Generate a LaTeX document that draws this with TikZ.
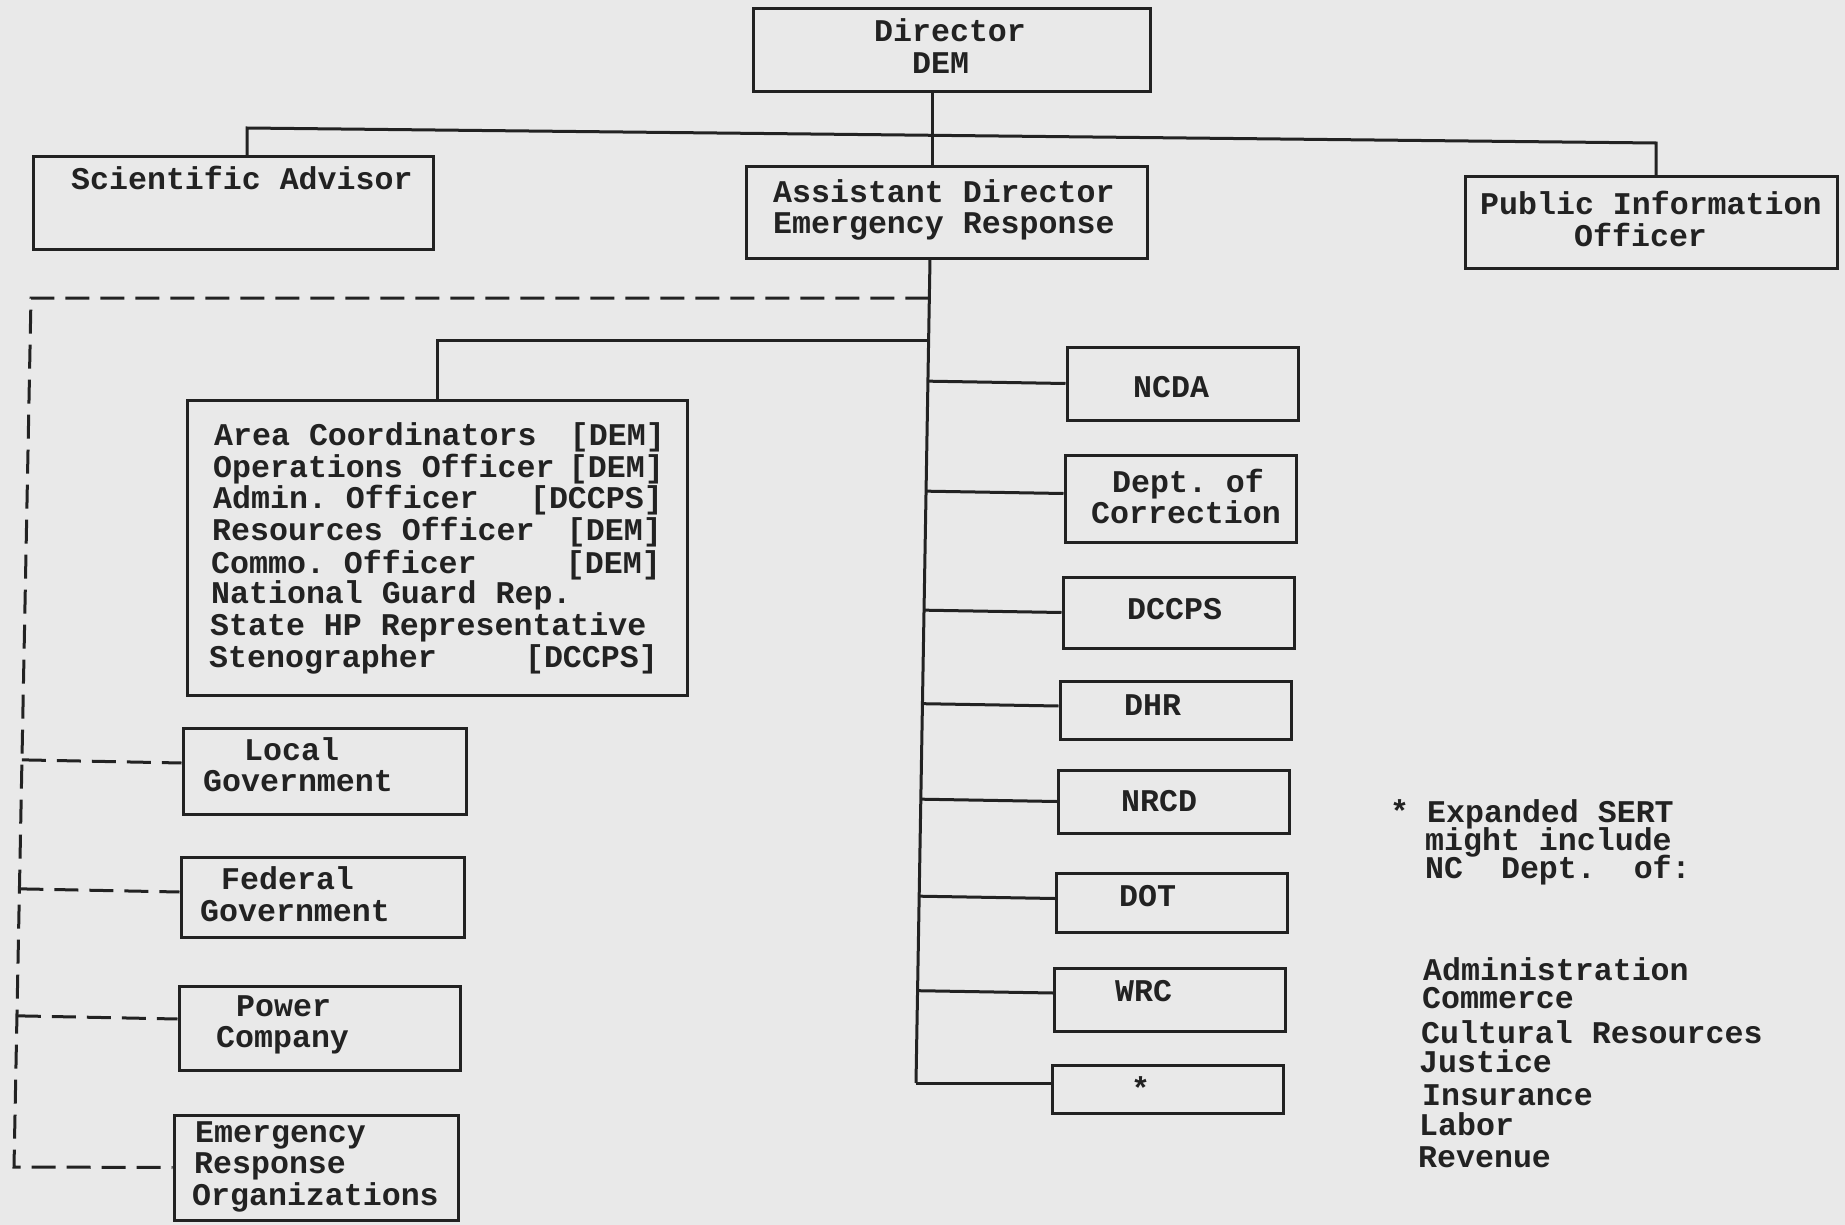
\documentclass[tikz,border=0pt]{standalone}
\usepackage{fontspec}
\setmonofont{Liberation Mono}
\usetikzlibrary{calc}
\definecolor{paper}{HTML}{E9E9E9}
\definecolor{ink}{HTML}{222222}
\newcommand\twfont{\fontsize{31.6}{31.6}\selectfont\ttfamily\bfseries}
\begin{document}
\begin{tikzpicture}[x=1pt,y=-1pt,
  box/.style={draw=ink, line width=3pt, rectangle, inner sep=0pt},
  tx/.style={anchor=base west, inner sep=0pt, font=\twfont, text=ink, text height=20pt, text depth=5pt},
  txr/.style={anchor=base east, inner sep=0pt, font=\twfont, text=ink, text height=20pt, text depth=5pt},
  link/.style={draw=ink, line width=3pt},
  dlink/.style={draw=ink, line width=3pt, dash pattern=on 24pt off 11pt}]
\useasboundingbox (0,0) rectangle (1845,1225);
\fill[paper] (0,0) rectangle (1845,1225);

% ---- boxes
\node[box, minimum width=397pt, minimum height=83pt] (dir) at (951.5,50.5) {};
\node[box, minimum width=400pt, minimum height=93pt] (sci) at (233,203.5) {};
\node[box, minimum width=401pt, minimum height=92pt] (ad) at (946.5,213) {};
\node[box, minimum width=372pt, minimum height=91pt] (pio) at (1651,222.5) {};
\node[box, minimum width=500pt, minimum height=295pt] (staff) at (437,547.5) {};
\node[box, minimum width=283pt, minimum height=86pt] (local) at (324.5,771) {};
\node[box, minimum width=283pt, minimum height=80pt] (fed) at (322.5,897) {};
\node[box, minimum width=281pt, minimum height=84pt] (power) at (319.5,1028) {};
\node[box, minimum width=284pt, minimum height=105pt] (ero) at (316,1167.5) {};
\node[box, minimum width=231pt, minimum height=73pt] (ncda) at (1182.5,383.5) {};
\node[box, minimum width=231pt, minimum height=87pt] (corr) at (1180.5,498.5) {};
\node[box, minimum width=231pt, minimum height=71pt] (dccps) at (1178.5,612.5) {};
\node[box, minimum width=231pt, minimum height=58pt] (dhr) at (1175.5,710) {};
\node[box, minimum width=231pt, minimum height=63pt] (nrcd) at (1174,801.5) {};
\node[box, minimum width=231pt, minimum height=59pt] (dot) at (1172,902.5) {};
\node[box, minimum width=231pt, minimum height=63pt] (wrc) at (1170,1000) {};
\node[box, minimum width=231pt, minimum height=48pt] (star) at (1168,1089) {};

% ---- solid connectors
\coordinate (bl) at (247,128);
\coordinate (br) at (1656,143);
\coordinate (jx) at (932,135);
\draw[link] (sci.north -| bl) -- (bl) -- (br) -- (pio.north -| br);
\draw[link] (dir.south -| jx) -- (ad.north -| jx);
\coordinate (tt) at (930,259);
\coordinate (tb) at (916,1083);
\draw[link] (tt) -- (tb);
\coordinate (sj) at (929,340);
\draw[link] (sj) -| (staff.north);
\draw[link] ($(tt)!(ncda.west)!(tb)$) -- (ncda.west);
\draw[link] ($(tt)!([yshift=5pt]corr.west)!(tb)$) -- ([yshift=5pt]corr.west);
\draw[link] ($(tt)!(dccps.west)!(tb)$) -- (dccps.west);
\draw[link] ($(tt)!([yshift=4pt]dhr.west)!(tb)$) -- ([yshift=4pt]dhr.west);
\draw[link] ($(tt)!(nrcd.west)!(tb)$) -- (nrcd.west);
\draw[link] ($(tt)!([yshift=4pt]dot.west)!(tb)$) -- ([yshift=4pt]dot.west);
\draw[link] ($(tt)!([yshift=7pt]wrc.west)!(tb)$) -- ([yshift=7pt]wrc.west);
\draw[link] (tb) -- (tb -| star.west);

% ---- dashed connectors
\coordinate (dj) at (929.3,298);
\coordinate (dl1) at (31,298);
\coordinate (dl2) at (14,1167);
\draw[dlink] (dj) -- (dl1) -- (dl2) -- (ero.west);
\draw[dlink] ($(dl1)!([yshift=8pt]local.west)!(dl2)$) -- ([yshift=8pt]local.west);
\draw[dlink] ($(dl1)!([yshift=5pt]fed.west)!(dl2)$) -- ([yshift=5pt]fed.west);
\draw[dlink] ($(dl1)!([yshift=9pt]power.west)!(dl2)$) -- ([yshift=9pt]power.west);

% ---- texts
\node[tx] (tdir1) at (874,42) {Director};
\node[tx] (tdir2) at (912,74) {DEM};
\node[tx] (tsci) at (71,190) {Scientific Advisor};
\node[tx] (tad1) at (773,203) {Assistant Director};
\node[tx] (tad2) at (773,234) {Emergency Response};
\node[tx] (tpio1) at (1480,215) {Public Information};
\node[tx] (tpio2) at (1574,247) {Officer};

\node[tx] (ts1) at (214,445) {Area Coordinators};
\node[txr] (tb1) at (665,445) {[DEM]};
\node[tx] (ts2) at (213,477) {Operations Officer};
\node[txr] (tb2) at (664,477) {[DEM]};
\node[tx] (ts3) at (213,508) {Admin. Officer};
\node[txr] (tb3) at (663,508) {[DCCPS]};
\node[tx] (ts4) at (212,540) {Resources Officer};
\node[txr] (tb4) at (662,540) {[DEM]};
\node[tx] (ts5) at (211,573) {Commo. Officer};
\node[txr] (tb5) at (661,573) {[DEM]};
\node[tx] (ts6) at (211,603) {National Guard Rep.};
\node[tx] (ts7) at (210,635) {State HP Representative};
\node[tx] (ts8) at (209,667) {Stenographer};
\node[txr] (tb8) at (658,667) {[DCCPS]};

\node[tx] (tloc1) at (244,760) {Local};
\node[tx] (tloc2) at (203,791) {Government};
\node[tx] (tfed1) at (221,889) {Federal};
\node[tx] (tfed2) at (200,921) {Government};
\node[tx] (tpow1) at (236,1016) {Power};
\node[tx] (tpow2) at (216,1047) {Company};
\node[tx] (tero1) at (195,1142) {Emergency};
\node[tx] (tero2) at (194,1173) {Response};
\node[tx] (tero3) at (192,1205) {Organizations};

\node[tx] (tncda) at (1133,397) {NCDA};
\node[tx] (tcor1) at (1112,492) {Dept. of};
\node[tx] (tcor2) at (1091,523) {Correction};
\node[tx] (tdcc) at (1127,619) {DCCPS};
\node[tx] (tdhr) at (1124,715) {DHR};
\node[tx] (tnrc) at (1121,811) {NRCD};
\node[tx] (tdot) at (1119,906) {DOT};
\node[tx] (twrc) at (1115,1001) {WRC};
\node[tx] (tstar) at (1131,1099) {*};

\node[tx] (fn0) at (1390,822) {*};
\node[tx] (fn1) at (1427,822) {Expanded SERT};
\node[tx] (fn2) at (1425,850) {might include};
\node[tx] (fn3) at (1425,878) {NC\ \ Dept.\ \ of:};
\node[tx] (fd1) at (1423,980) {Administration};
\node[tx] (fd2) at (1422,1008) {Commerce};
\node[tx] (fd3) at (1421,1043) {Cultural Resources};
\node[tx] (fd4) at (1419,1072) {Justice};
\node[tx] (fd5) at (1422,1105) {Insurance};
\node[tx] (fd6) at (1419,1135) {Labor};
\node[tx] (fd7) at (1418,1167) {Revenue};
\end{tikzpicture}
\end{document}
